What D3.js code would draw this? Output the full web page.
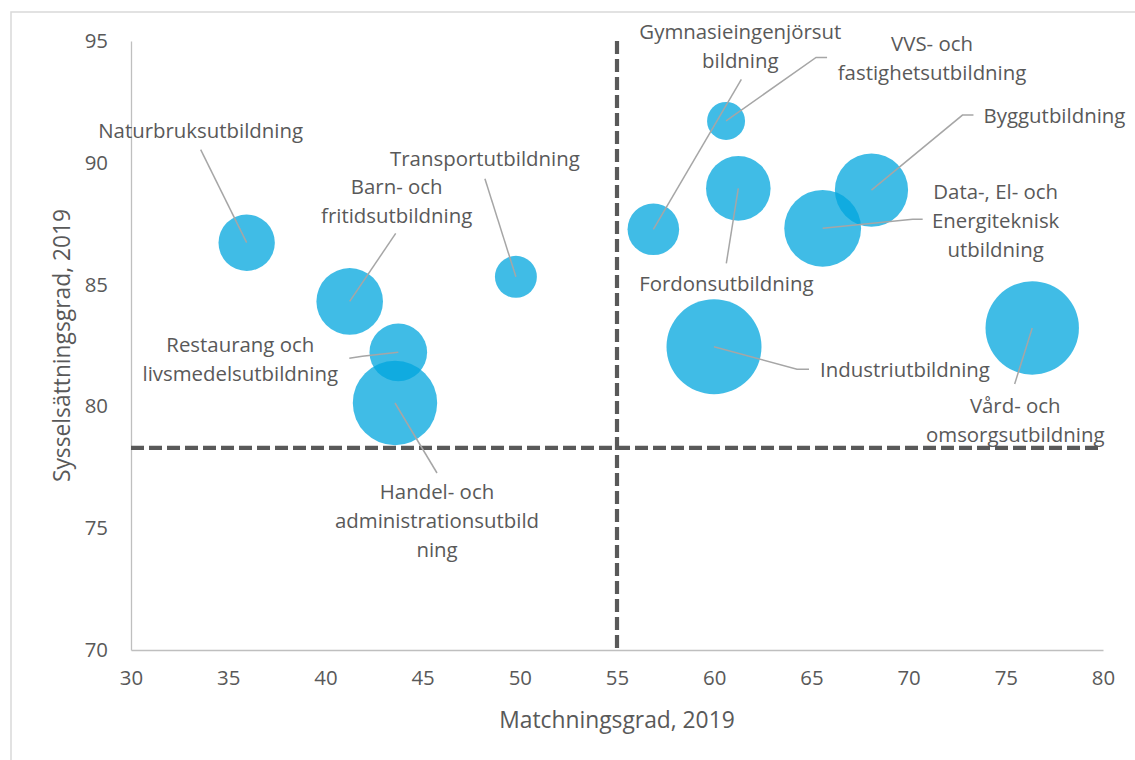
<!DOCTYPE html>
<html>
<head>
<meta charset="utf-8">
<script src="https://cdn.jsdelivr.net/npm/d3@7"></script>
<style>
  body { margin: 0; background: #fff; }
  text { font-family: "Open Sans", sans-serif; fill: #595959; }
</style>
</head>
<body>
<div id="chart"></div>
<script>
const names = [
  ["Naturbruksutbildning"],
  ["Transportutbildning"],
  ["Barn- och", "fritidsutbildning"],
  ["Restaurang och", "livsmedelsutbildning"],
  ["Handel- och", "administrationsutbild", "ning"],
  ["Gymnasieingenjörsut", "bildning"],
  ["VVS- och", "fastighetsutbildning"],
  ["Byggutbildning"],
  ["Data-, El- och", "Energiteknisk", "utbildning"],
  ["Fordonsutbildning"],
  ["Industriutbildning"],
  ["Vård- och", "omsorgsutbildning"],
];
const matchning = [35.95, 49.8, 41.25, 43.75, 43.58, 56.87, 60.61, 68.09, 65.58, 61.24, 59.99, 76.36];
const sysselsattning = [86.72, 85.32, 84.31, 82.22, 80.14, 87.27, 91.72, 88.88, 87.31, 88.95, 82.45, 83.22];
const sizes = [35.2, 19.5, 49.1, 36.8, 78.9, 29.5, 16.0, 59.4, 65.4, 46.2, 100, 96.7];

const xTicks = [30, 35, 40, 45, 50, 55, 60, 65, 70, 75, 80];
const yTicks = [70, 75, 80, 85, 90, 95];
const refMatchning = 55;
const refSyssel = 78.3;

// label placement relative to the bubble centre (px): label centre + leader points
const labelLayout = [
  { dx: -46, dy: -112, leader: [[-46, -93]] },
  { dx: -31, dy: -118, leader: [[-31, -98]] },
  { dx: 47, dy: -100, leader: [[46, -68]] },
  { dx: -158, dy: 7, leader: [[-36, 4], [-49, 6]] },
  { dx: 42, dy: 118, leader: [[42, 70]] },
  { dx: 87, dy: -183, leader: [[88, -150]] },
  { dx: 206, dy: -63, leader: [[90, -63.5], [101, -63.5]] },
  { dx: 183, dy: -74, leader: [[91, -75], [102, -75]] },
  { dx: 173, dy: -8, leader: [[90, -9], [100, -9]] },
  { dx: -12, dy: 95, leader: [[-12, 75]] },
  { dx: 191, dy: 23, leader: [[83, 22.6], [95, 22.6]] },
  { dx: -17, dy: 92, leader: [[-17.6, 56]] },
];

const W = 1135, H = 760;
const svg = d3.select("#chart").append("svg").attr("width", W).attr("height", H);

// outer chart frame
svg.append("rect")
  .attr("x", 11).attr("y", 12)
  .attr("width", W + 10).attr("height", H + 10)
  .attr("fill", "none").attr("stroke", "#d9d9d9").attr("stroke-width", 1.5);

const x = d3.scaleLinear().domain([30, 80]).range([131, 1103]);
const y = d3.scaleLinear().domain([70, 95]).range([650, 41]);
const r = d3.scaleSqrt().domain([0, 100]).range([0, 47.5]);

const fs = 20.4;

// axes
svg.append("g")
  .attr("transform", `translate(0, ${y(70)})`)
  .call(d3.axisBottom(x).tickValues(xTicks).tickSize(0).tickPadding(21))
  .call((g) => g.select(".domain").attr("stroke", "#bfbfbf").attr("stroke-width", 1.3))
  .call((g) => g.selectAll("text").style("font-size", fs + "px").attr("fill", "#595959")
    .style("font-family", '"Open Sans", sans-serif'));

svg.append("g")
  .attr("transform", `translate(${x(30)}, 0)`)
  .call(d3.axisLeft(y).tickValues(yTicks).tickSize(0).tickPadding(23))
  .call((g) => g.select(".domain").attr("stroke", "#bfbfbf").attr("stroke-width", 1.3))
  .call((g) => g.selectAll("text").style("font-size", fs + "px").attr("fill", "#595959")
    .style("font-family", '"Open Sans", sans-serif'));

svg.append("text")
  .attr("x", (x(30) + x(80)) / 2)
  .attr("y", 728)
  .attr("text-anchor", "middle")
  .style("font-size", "22.8px")
  .text("Matchningsgrad, 2019");

svg.append("text")
  .attr("transform", `translate(70, ${(y(70) + y(95)) / 2}) rotate(-90)`)
  .attr("text-anchor", "middle")
  .style("font-size", "22.8px")
  .text("Sysselsättningsgrad, 2019");

// reference lines
const dash = "13,5";
svg.append("line")
  .attr("x1", x(refMatchning)).attr("x2", x(refMatchning))
  .attr("y1", y(95)).attr("y2", y(70))
  .attr("stroke", "#595959").attr("stroke-width", 4.2).attr("stroke-dasharray", dash);
svg.append("line")
  .attr("x1", x(30)).attr("x2", x(80))
  .attr("y1", y(refSyssel)).attr("y2", y(refSyssel))
  .attr("stroke", "#595959").attr("stroke-width", 4.2).attr("stroke-dasharray", dash);

const data = names.map((n, i) => ({
  lines: n,
  mx: matchning[i],
  sy: sysselsattning[i],
  size: sizes[i],
  layout: labelLayout[i],
}));

// bubbles
svg.append("g")
  .selectAll("circle")
  .data(data)
  .join("circle")
  .attr("cx", (d) => x(d.mx))
  .attr("cy", (d) => y(d.sy))
  .attr("r", (d) => r(d.size))
  .attr("fill", "rgb(0,166,222)")
  .attr("fill-opacity", 0.75);

// leader lines
const line = d3.line();
svg.append("g")
  .selectAll("path")
  .data(data)
  .join("path")
  .attr("d", (d) => {
    const cx = x(d.mx), cy = y(d.sy);
    const pts = [[cx, cy]].concat(d.layout.leader.map((p) => [cx + p[0], cy + p[1]]));
    return line(pts);
  })
  .attr("fill", "none")
  .attr("stroke", "#a6a6a6")
  .attr("stroke-width", 1.5);

// labels
const lh = 29;
const labels = svg.append("g")
  .selectAll("text")
  .data(data)
  .join("text")
  .attr("text-anchor", "middle")
  .style("font-size", fs + "px")
  .attr("x", (d) => x(d.mx) + d.layout.dx)
  .attr("y", (d) => y(d.sy) + d.layout.dy - ((d.lines.length - 1) * lh) / 2 + fs * 0.36);

labels.selectAll("tspan")
  .data((d) => d.lines.map((t) => ({ t, d })))
  .join("tspan")
  .attr("x", (e) => x(e.d.mx) + e.d.layout.dx)
  .attr("dy", (e, i) => (i === 0 ? 0 : lh))
  .text((e) => e.t);
</script>
</body>
</html>
